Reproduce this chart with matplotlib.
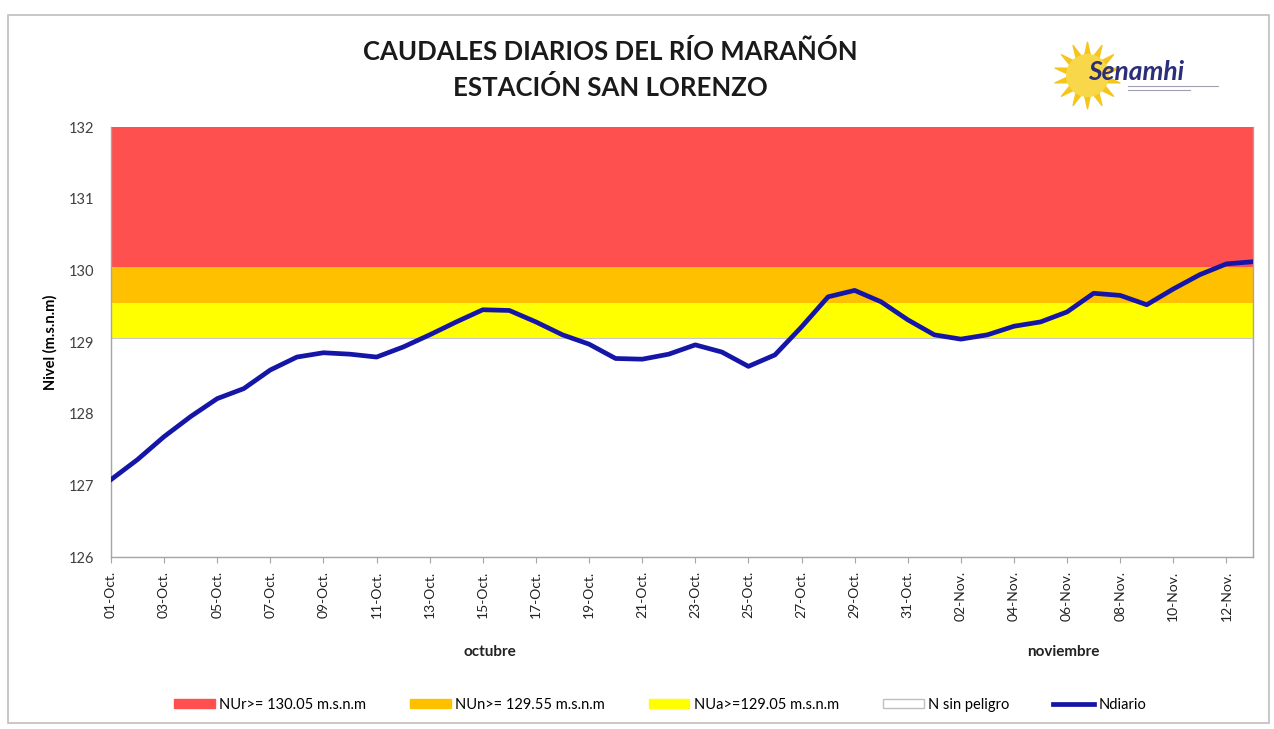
import matplotlib
matplotlib.use("Agg")
import matplotlib.pyplot as plt
from matplotlib.patches import Patch, Rectangle
from matplotlib.lines import Line2D
import numpy as np

# ---------------- data ----------------
dates = ["01-Oct.", "02-Oct.", "03-Oct.", "04-Oct.", "05-Oct.", "06-Oct.", "07-Oct.", "08-Oct.",
         "09-Oct.", "10-Oct.", "11-Oct.", "12-Oct.", "13-Oct.", "14-Oct.", "15-Oct.", "16-Oct.",
         "17-Oct.", "18-Oct.", "19-Oct.", "20-Oct.", "21-Oct.", "22-Oct.", "23-Oct.", "24-Oct.",
         "25-Oct.", "26-Oct.", "27-Oct.", "28-Oct.", "29-Oct.", "30-Oct.", "31-Oct.",
         "01-Nov.", "02-Nov.", "03-Nov.", "04-Nov.", "05-Nov.", "06-Nov.", "07-Nov.", "08-Nov.",
         "09-Nov.", "10-Nov.", "11-Nov.", "12-Nov.", "13-Nov."]
nivel_diario = [127.08, 127.36, 127.68, 127.96, 128.21, 128.35, 128.61, 128.79,
                128.85, 128.83, 128.79, 128.93, 129.10, 129.28, 129.45, 129.44,
                129.28, 129.10, 128.97, 128.77, 128.76, 128.83, 128.96, 128.86,
                128.66, 128.82, 129.21, 129.63, 129.72, 129.56, 129.31,
                129.10, 129.04, 129.10, 129.22, 129.28, 129.42, 129.68, 129.65,
                129.52, 129.74, 129.94, 130.09, 130.12]
umbral_rojo = 130.05
umbral_naranja = 129.55
umbral_amarillo = 129.05
y_min, y_max = 126, 132
months = ["octubre", "noviembre"]
legend_labels = ["NUr>= 130.05 m.s.n.m", "NUn>= 129.55 m.s.n.m", "NUa>=129.05 m.s.n.m",
                 "N sin peligro", "Ndiario"]

# ---------------- style ----------------
plt.rcParams['font.family'] = ['Lato', 'DejaVu Sans']
c_red, c_orange, c_yellow = "#FF5050", "#FFC000", "#FFFF00"
c_line = "#1515A8"
grey = "#A6A6A6"

fig = plt.figure(figsize=(12.74, 7.29), dpi=100)
fig.patch.set_facecolor("white")
# chart border
fig.add_artist(Rectangle((0.006, 0.008), 0.99, 0.972, transform=fig.transFigure,
                         fill=False, edgecolor="#BFBFBF", lw=1.2))

ax = fig.add_axes([111 / 1274, 1 - 557 / 729, (1253 - 111) / 1274, (557 - 127) / 729])
x = np.arange(len(dates))
ax.fill_between(x, umbral_rojo, y_max, color=c_red, lw=0)
ax.fill_between(x, umbral_naranja, umbral_rojo, color=c_orange, lw=0)
ax.fill_between(x, umbral_amarillo, umbral_naranja, color=c_yellow, lw=0)
ax.fill_between(x, y_min, umbral_amarillo, facecolor="white", edgecolor="#C8C8C8", lw=0.8)
ax.plot(x, nivel_diario, color=c_line, lw=3.4, solid_joinstyle="round", zorder=5)

ax.set_xlim(0, len(dates) - 1)
ax.set_ylim(y_min, y_max)
ax.set_yticks(np.arange(y_min, y_max + 1, 1))
ax.tick_params(axis="y", length=0, labelsize=10.5, labelcolor="#404040", pad=12)
ticks = x[::2]
ax.set_xticks(ticks)
ax.set_xticklabels([dates[i] for i in ticks], rotation=90, fontsize=10, color="#222222")
ax.tick_params(axis="x", length=4, color=grey, pad=6)
for s in ["left", "bottom", "right"]:
    ax.spines[s].set_color(grey)
    ax.spines[s].set_linewidth(1.0)
ax.spines["top"].set_visible(False)
ax.set_ylabel("Nivel (m.s.n.m)", fontsize=10.5, fontweight="bold", labelpad=8)

# month labels
ax.text(14.27, -0.222, months[0], transform=ax.get_xaxis_transform(), ha="center", va="center",
        fontsize=11, fontweight="bold", color="#222222")
ax.text(35.84, -0.222, months[1], transform=ax.get_xaxis_transform(), ha="center", va="center",
        fontsize=11, fontweight="bold", color="#222222")

# title
fig.text(610 / 1274, 1 - 51 / 729, "CAUDALES DIARIOS DEL RÍO MARAÑÓN", ha="center", va="center",
         fontsize=18.5, fontweight="bold", color="#1a1a1a")
fig.text(610 / 1274, 1 - 88 / 729, "ESTACIÓN SAN LORENZO", ha="center", va="center",
         fontsize=18.5, fontweight="bold", color="#1a1a1a")

# logo
lax = fig.add_axes([1050 / 1274, 1 - 112 / 729, 180 / 1274, 80 / 729])
lax.set_xlim(0, 180)
lax.set_ylim(0, 80)
lax.axis("off")
lax.scatter([37], [37], s=2300, marker=(14, 1, 0), color="#F5C518", zorder=1)
lax.scatter([37], [37], s=900, marker="o", color="#F8D84A", zorder=2)
lax.text(38, 40, "Senamhi", fontsize=19, fontweight="bold", style="italic",
         color="#2B2F7A", ha="left", va="center", zorder=3)
lax.plot([78, 168], [26, 26], color="#A0A0B0", lw=0.8)
lax.plot([78, 140], [22, 22], color="#A0A0B0", lw=0.8)

# legend
handles = [Patch(facecolor=c_red, edgecolor=c_red),
           Patch(facecolor=c_orange, edgecolor=c_orange),
           Patch(facecolor=c_yellow, edgecolor=c_yellow),
           Patch(facecolor="white", edgecolor="#BFBFBF"),
           Line2D([0], [0], color=c_line, lw=3.4)]
fig.legend(handles, legend_labels, loc="center", bbox_to_anchor=(660 / 1274, 1 - 705 / 729),
           ncol=5, frameon=False, fontsize=10.5, handlelength=2.8, handleheight=0.6,
           columnspacing=3.0, handletextpad=0.3)

fig.savefig("out.png", dpi=100)
